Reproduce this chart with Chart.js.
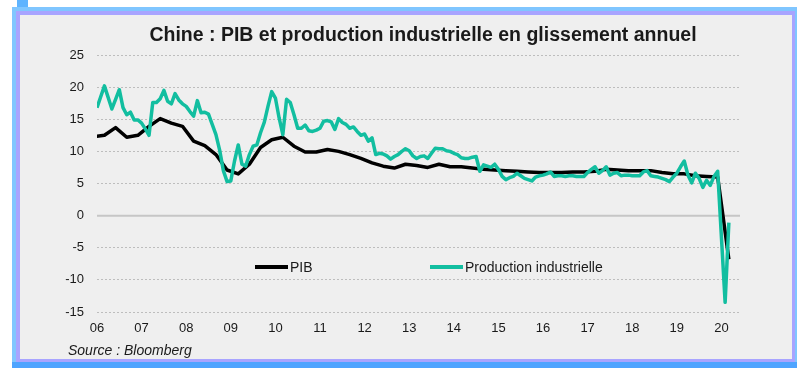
<!DOCTYPE html>
<html lang="fr">
<head>
<meta charset="UTF-8">
<title>Chine : PIB et production industrielle</title>
<style>
  body { margin: 0; background: #fff; width: 800px; height: 372px; position: relative; overflow: hidden; }
  #tab { position: absolute; left: 17px; top: 0; width: 11px; height: 8px; background: #5fb4ff; }
  #frame { position: absolute; left: 12px; top: 7px; width: 785px; height: 355px; background: #80c6ff; border-bottom: 6px solid #4ea4ff; }
  #line { position: absolute; left: 16px; top: 11px; width: 779px; height: 351px; background: #a8a4ff; }
  #chart { position: absolute; left: 20px; top: 15px; background: #efefef; }
</style>
</head>
<body>
<div id="tab"></div>
<div id="frame"></div>
<div id="line"></div>
<canvas id="chart" width="772" height="344"></canvas>

<script src="https://cdn.jsdelivr.net/npm/chart.js"></script>
<script>
    // labels de l'axe des x (une graduation par année, janvier)
    var yearLabels = ['06', '07', '08', '09', '10', '11', '12', '13', '14', '15', '16', '17', '18', '19', '20'];

    // production industrielle, % a/a, mensuel à partir de janvier 2006
    var ipFirstMonth = 0;
    var ipValues = [
        16.8, 18.5, 20.2, 18.4, 16.6, 18.1, 19.6, 16.8, 15.7, 16.1, 14.9, 14.9,
        14.4, 13.5, 12.5, 17.6, 17.6, 18.2, 19.5, 17.8, 17.4, 19.0, 18.0, 17.4,
        17.0, 16.2, 15.5, 17.9, 16.0, 16.1, 15.8, 14.2, 12.6, 10.2, 7.0, 5.3,
        5.4, 8.5, 11.0, 8.0, 7.7, 9.5, 10.8, 11.0, 12.9, 14.5, 17.0, 19.3,
        18.3, 15.2, 12.6, 18.1, 17.6, 15.7, 13.6, 13.6, 14.1, 13.2, 13.1, 13.3,
        13.6, 14.7, 14.8, 14.6, 13.4, 15.1, 14.5, 14.2, 13.6, 13.8, 13.1, 12.5,
        12.7, 11.6, 12.1, 9.5, 9.7, 9.6, 9.3, 8.8, 9.2, 9.5, 10.0, 10.4,
        10.1, 9.3, 8.9, 9.2, 9.3, 8.9, 9.7, 10.5, 10.4, 10.4, 10.1, 10.0,
        9.7, 9.5, 9.0, 8.9, 8.9, 9.1, 9.2, 6.9, 7.9, 7.7, 7.5, 8.0,
        7.2, 6.1, 5.6, 5.9, 6.1, 6.6, 6.2, 5.8, 5.6, 5.4, 6.0, 6.2,
        6.3, 6.5, 6.8, 6.1, 6.2, 6.2, 6.1, 6.2, 6.2, 6.1, 6.1, 6.1,
        6.7, 7.2, 7.6, 6.6, 7.0, 7.6, 6.3, 6.6, 6.7, 6.2, 6.3, 6.3,
        6.2, 6.2, 6.2, 6.8, 7.0, 6.2, 6.1, 6.0, 5.8, 5.6, 5.3, 6.0,
        6.6, 7.6, 8.5, 6.3, 5.1, 6.6, 5.8, 4.4, 5.5, 4.7, 6.1, 6.9,
        null, -13.5, -1.1
    ];

    // PIB, % a/a, trimestriel (dernier mois du trimestre), à partir de T4 2005
    var gdpFirstMonth = -1;
    var gdpValues = [
        12.3,
        12.5, 13.7, 12.2, 12.5,
        13.9, 15.1, 14.4, 13.9,
        11.6, 10.9, 9.5, 7.1,
        6.5, 8.0, 10.6, 11.8,
        12.2, 10.8, 9.9, 9.9,
        10.3, 10.0, 9.5, 8.9,
        8.2, 7.7, 7.4, 8.0,
        7.8, 7.5, 8.0, 7.6,
        7.6, 7.4, 7.2, 7.1,
        7.0, 6.9, 6.8, 6.7,
        6.7, 6.7, 6.8, 6.8,
        6.9, 7.2, 7.1, 7.0,
        7.0, 7.0, 6.7, 6.5,
        6.5, 6.2, 6.1, 6.0,
        -6.8
    ];

    var monthsShown = 173;
    var teal = '#12bea0';
    var textColor = '#1a1a1a';

    var ipPoints = ipValues.map(function (v, i) { return { x: ipFirstMonth + i, y: v }; });
    var gdpPoints = gdpValues.map(function (v, i) { return { x: gdpFirstMonth + 3 * i, y: v }; });

    // titre, source, ligne du zéro et légende dans le graphique
    var decor = {
        id: 'decor',
        beforeDatasetsDraw: function (chart) {
            var c = chart.ctx, a = chart.chartArea;
            var y0 = chart.scales.y.getPixelForValue(0);
            c.save();
            c.strokeStyle = '#c6c6c6';
            c.lineWidth = 2;
            c.beginPath();
            c.moveTo(a.left, y0);
            c.lineTo(a.right, y0);
            c.stroke();
            c.restore();
        },
        afterDraw: function (chart) {
            var c = chart.ctx, a = chart.chartArea;
            c.save();
            c.fillStyle = textColor;
            c.textBaseline = 'middle';
            c.textAlign = 'center';
            c.font = 'bold 19.5px "Liberation Sans", Arial, sans-serif';
            c.fillText('Chine : PIB et production industrielle en glissement annuel', 403, 21);

            c.textAlign = 'left';
            c.font = 'italic 14px "Liberation Sans", Arial, sans-serif';
            c.fillText('Source : Bloomberg', 48, 336);

            var ly = a.top + 212;
            var items = [
                { ds: chart.data.datasets[1], x: a.left + 158 },
                { ds: chart.data.datasets[0], x: a.left + 333 }
            ];
            c.font = '14px "Liberation Sans", Arial, sans-serif';
            items.forEach(function (it) {
                c.strokeStyle = it.ds.borderColor;
                c.lineWidth = 4;
                c.beginPath();
                c.moveTo(it.x, ly);
                c.lineTo(it.x + 33, ly);
                c.stroke();
                c.fillText(it.ds.label, it.x + 35, ly + 1);
            });
            c.restore();
        }
    };

    var chrt = document.getElementById('chart').getContext('2d');
    var chartId = new Chart(chrt, {
        type: 'line',
        data: {
            datasets: [{
                label: 'Production industrielle',
                data: ipPoints,
                borderColor: teal,
                borderWidth: 3.5,
                borderJoinStyle: 'round',
                pointRadius: 0,
                spanGaps: true,
                tension: 0
            }, {
                label: 'PIB',
                data: gdpPoints,
                borderColor: '#000000',
                borderWidth: 3.5,
                borderJoinStyle: 'round',
                pointRadius: 0,
                tension: 0
            }]
        },
        options: {
            responsive: false,
            animation: false,
            devicePixelRatio: 1,
            layout: { padding: { top: 40, right: 52, bottom: 16, left: 0 } },
            plugins: {
                legend: { display: false },
                title: { display: false },
                tooltip: { enabled: false }
            },
            scales: {
                x: {
                    type: 'linear',
                    min: 0,
                    max: monthsShown,
                    afterBuildTicks: function (scale) {
                        scale.ticks = yearLabels.map(function (l, i) { return { value: i * 12 }; });
                    },
                    afterFit: function (scale) { scale.height = 31; },
                    grid: { display: false, drawTicks: false },
                    border: { display: false },
                    ticks: {
                        autoSkip: false,
                        maxRotation: 0,
                        padding: 9,
                        color: textColor,
                        font: { family: '"Liberation Sans", Arial, sans-serif', size: 13 },
                        callback: function (v) { return yearLabels[Math.round(v / 12)]; }
                    }
                },
                y: {
                    min: -15,
                    max: 25,
                    afterFit: function (scale) { scale.width = 77; },
                    grid: {
                        drawTicks: false,
                        color: function (ctx) { return ctx.tick && ctx.tick.value === 0 ? 'rgba(0,0,0,0)' : '#bdbdbd'; },
                        lineWidth: 1
                    },
                    border: { display: false, dash: [2, 2] },
                    ticks: {
                        stepSize: 5,
                        padding: 13,
                        color: textColor,
                        font: { family: '"Liberation Sans", Arial, sans-serif', size: 13 }
                    }
                }
            }
        },
        plugins: [decor]
    });
</script>
</body>
</html>
